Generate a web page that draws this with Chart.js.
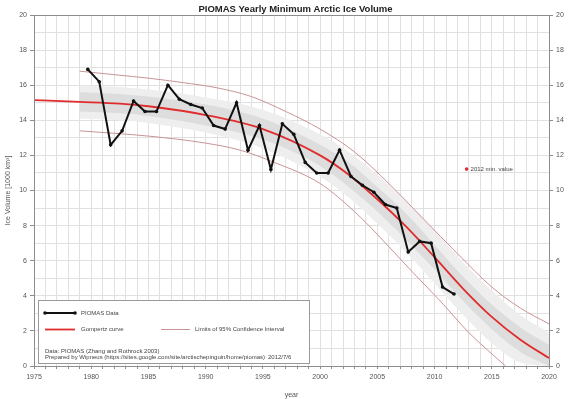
<!DOCTYPE html>
<html>
<head>
<meta charset="utf-8">
<script src="https://cdn.jsdelivr.net/npm/chart.js@4/dist/chart.umd.min.js"></script>
<style>
  html,body{margin:0;padding:0;background:#fff;}
  #wrap{width:570px;height:399px;}
</style>
</head>
<body>
<div id="wrap"><canvas id="iceChart" width="570" height="399"></canvas></div>
<script>
// ===== Data =====
const years = [1979,1980,1981,1982,1983,1984,1985,1986,1987,1988,1989,1990,1991,1992,1993,1994,1995,
  1996,1997,1998,1999,2000,2001,2002,2003,2004,2005,2006,2007,2008,2009,2010,2011];
const iceVolume = [16.9,16.2,12.6,13.4,15.1,14.5,14.5,16.0,15.2,14.9,14.7,13.7,13.5,15.0,12.3,13.7,11.2,
  13.8,13.2,11.6,11.0,11.0,12.3,10.8,10.3,9.9,9.2,9.0,6.5,7.1,7.0,4.5,4.1];
const SEPT = 0.7; // minimum is in september, plotted inside the year

const curveYears = [1975,1979,1982.5,1985,1990,1995,2000,2002.5,2005,2007.5,2010,2012.5,2015,2017.5,2020];
const gompertz   = [15.15,15.05,14.95,14.8,14.3,13.5,12.0,10.9,9.5,7.95,6.2,4.4,2.8,1.5,0.45];

const bandYears   = [1979,1982.5,1985,1990,1995,2000,2002.5,2005,2007.5,2010,2012.5,2015,2017.5,2020];
const outerHi     = [16.0,15.9,15.75,15.3,14.6,13.2,12.2,10.9,9.4,7.7,5.9,4.3,2.9,1.9];
const outerLo     = [14.1,14.0,13.85,13.3,12.4,10.8,9.6,8.1,6.5,4.7,2.9,1.3,0.2,0];
const innerHi     = [15.6,15.5,15.35,14.9,14.1,12.6,11.6,10.2,8.7,6.9,5.1,3.5,2.2,1.2];
const innerLo     = [14.5,14.4,14.25,13.7,12.9,11.4,10.2,8.8,7.2,5.5,3.7,2.1,0.8,0];

const limitYears = [1979,1982,1985,1988,1991,1994,1997,2000,2003,2006,2009,2012,2015,2017.5,2020];
const upperLimit = [16.8,16.6,16.4,16.15,15.85,15.35,14.5,13.5,12.2,10.4,8.4,6.4,4.5,3.3,2.4];
const lowerYears = [1979,1985,1990,1993,1996,2000,2003,2005,2008,2010.5,2013,2016.2];
const lowerLimit = [13.4,13.1,12.7,12.3,11.6,10.4,8.8,7.5,5.4,3.7,1.9,0];

const xTicksMin = 1975, xTicksMax = 2020;
const yMin = 0, yMax = 20;

const toXY = (xs, ys, off = 0) => xs.map((x, i) => ({x: x + off, y: ys[i]}));

const FONT = "'Liberation Sans', Arial, sans-serif";
const GRID = "#e0e0e0";
const AXIS = "#8c8c8c";
const TXT = "#555";
const LIMIT_COL = "#c99494";
const RED = "#e02c2c";

// ===== Extra drawing: title, frame, legend box, note =====
const decor = {
  id: "decor",
  afterDraw(chart){
    const {ctx, chartArea: a, scales} = chart;
    ctx.save();
    // frame
    ctx.strokeStyle = AXIS; ctx.lineWidth = 1;
    ctx.strokeRect(a.left + 0.5, a.top + 0.5, a.right - a.left, a.bottom - a.top);
    // title
    ctx.fillStyle = "#222";
    ctx.font = "bold 9.5px " + FONT;
    ctx.textAlign = "center"; ctx.textBaseline = "middle";
    ctx.fillText("PIOMAS Yearly Minimum Arctic Ice Volume", (a.left + a.right) / 2 + 4, 9);

    // legend box
    const bx = 38, by = 300, bw = 271, bh = 63;
    ctx.fillStyle = "#fff"; ctx.fillRect(bx, by, bw, bh);
    ctx.strokeStyle = "#9a9a9a"; ctx.strokeRect(bx + 0.5, by + 0.5, bw, bh);
    ctx.font = "6px " + FONT; ctx.textAlign = "left"; ctx.fillStyle = "#444";
    // PIOMAS data
    ctx.strokeStyle = "#111"; ctx.lineWidth = 2;
    ctx.beginPath(); ctx.moveTo(45, 313); ctx.lineTo(75, 313); ctx.stroke();
    ctx.fillStyle = "#111";
    [45, 75].forEach(px => { ctx.beginPath(); ctx.arc(px, 313, 1.8, 0, Math.PI * 2); ctx.fill(); });
    ctx.fillStyle = "#444";
    ctx.fillText("PIOMAS Data", 81, 313);
    // gompertz
    ctx.strokeStyle = RED; ctx.lineWidth = 1.8;
    ctx.beginPath(); ctx.moveTo(45, 329.5); ctx.lineTo(75, 329.5); ctx.stroke();
    ctx.fillText("Gompertz curve", 81, 329.5);
    // limits
    ctx.strokeStyle = LIMIT_COL; ctx.lineWidth = 1;
    ctx.beginPath(); ctx.moveTo(161, 329.5); ctx.lineTo(190, 329.5); ctx.stroke();
    ctx.fillText("Limits of 95% Confidence Interval", 195, 329.5);
    // source lines
    ctx.fillText("Data: PIOMAS (Zhang and Rothrock 2003)", 45, 351);
    ctx.fillText("Prepared by Wipneus (https://sites.google.com/site/arctischepinguin/home/piomas)", 45, 357.5);
    ctx.fillText("2012/7/6", 268, 357.5);

    // 2012 min. value marker
    const mx = scales.x.getPixelForValue(2012.8), my = scales.y.getPixelForValue(11.22);
    ctx.fillStyle = RED;
    ctx.beginPath(); ctx.arc(mx, my, 1.8, 0, Math.PI * 2); ctx.fill();
    ctx.fillStyle = "#444";
    ctx.fillText("2012 min. value", mx + 4, my);
    ctx.restore();
  }
};

// ===== Chart =====
const lineBase = {pointRadius: 0, borderWidth: 0, cubicInterpolationMode: "monotone"};

new Chart(document.getElementById("iceChart"), {
  type: "line",
  data: {
    datasets: [
      {label: "PIOMAS Data", data: toXY(years, iceVolume, SEPT), borderColor: "#111", backgroundColor: "#111",
        borderWidth: 2, pointRadius: 1.8, pointBorderWidth: 0, tension: 0, order: 0},
      {...lineBase, label: "Gompertz curve", data: toXY(curveYears, gompertz), borderColor: RED, borderWidth: 1.8, order: 1},
      {...lineBase, label: "upper limit", data: toXY(limitYears, upperLimit), borderColor: LIMIT_COL, borderWidth: 1, order: 2},
      {...lineBase, label: "lower limit", data: toXY(lowerYears, lowerLimit), borderColor: LIMIT_COL, borderWidth: 1, order: 2},
      {...lineBase, label: "inner hi", data: toXY(bandYears, innerHi), fill: 5, backgroundColor: "#dddddd", order: 3},
      {...lineBase, label: "inner lo", data: toXY(bandYears, innerLo), order: 3},
      {...lineBase, label: "outer hi", data: toXY(bandYears, outerHi), fill: 7, backgroundColor: "#eeeeee", order: 4},
      {...lineBase, label: "outer lo", data: toXY(bandYears, outerLo), order: 4}
    ]
  },
  options: {
    responsive: false,
    animation: false,
    layout: {padding: {top: 15, left: 0, right: 0, bottom: 0}},
    plugins: {legend: {display: false}, title: {display: false}, tooltip: {enabled: false}},
    scales: {
      x: {
        type: "linear", min: xTicksMin, max: xTicksMax,
        afterFit(s){ s.height = 33; },
        border: {display: false},
        grid: {color: GRID, tickColor: AXIS, tickLength: 3},
        ticks: {stepSize: 1, autoSkip: false, maxRotation: 0, padding: 4, color: TXT,
          font: {family: FONT, size: 7},
          callback: v => v % 5 === 0 ? String(v) : ""},
        title: {display: true, text: "year", color: TXT, font: {family: FONT, size: 7}, padding: {top: 0, bottom: 0}}
      },
      y: {
        min: yMin, max: yMax, position: "left",
        afterFit(s){ s.width = 34; },
        border: {display: false},
        grid: {color: GRID, tickLength: 4,
          tickColor: c => (c.tick && c.tick.value % 2 === 0) ? AXIS : "rgba(0,0,0,0)"},
        ticks: {stepSize: 1, autoSkip: false, padding: 3, color: TXT, font: {family: FONT, size: 7},
          callback: v => v % 2 === 0 ? String(v) : ""},
        title: {display: true, text: "Ice Volume [1000 km³]", color: TXT, font: {family: FONT, size: 7}, padding: {top: 4, bottom: 0}}
      },
      y2: {
        min: yMin, max: yMax, position: "right",
        afterFit(s){ s.width = 21; },
        border: {display: false},
        grid: {drawOnChartArea: false, tickColor: AXIS, tickLength: 4},
        ticks: {stepSize: 2, padding: 3, color: TXT, font: {family: FONT, size: 7}}
      }
    }
  },
  plugins: [decor]
});
</script>
</body>
</html>
